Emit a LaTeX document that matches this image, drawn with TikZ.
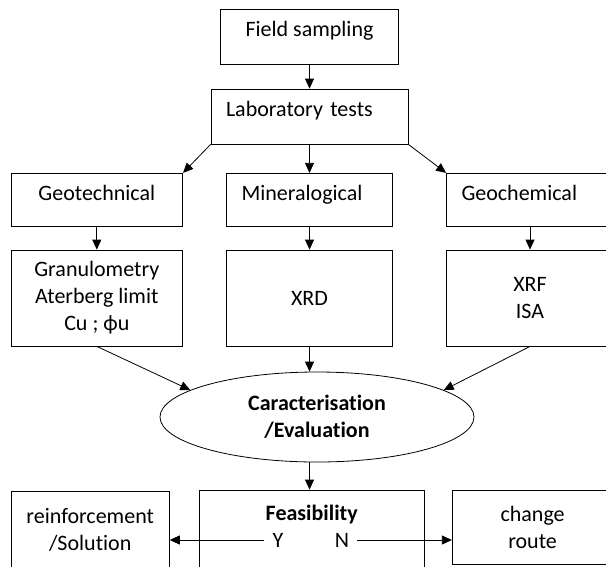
\documentclass[tikz,border=0pt]{standalone}
\usepackage{fontspec}
\setmainfont{Carlito}[Ligatures=NoCommon]
\usetikzlibrary{arrows.meta,shapes.geometric}

\begin{document}
\begin{tikzpicture}[x=1pt, y=-1pt,
  font=\fontsize{22}{27}\selectfont,
  box/.style={draw, line width=0.8pt, rectangle, inner sep=0pt, align=center},
  headbox/.style={box, text height=12pt, text depth=12pt},
  leftbox/.style={headbox, align=left, inner xsep=15pt},
  arr/.style={line width=0.8pt, -{Triangle[length=10pt,width=9pt]}}]
\useasboundingbox (0,0) rectangle (606,566);

% sampling and tests
\node[headbox, minimum width=178pt, minimum height=55pt] (field) at (309.5,36.8) {Field sampling};
\node[leftbox, text width=167pt, minimum height=55pt] (lab) at (309.5,116.5) {Laboratory tests};

% three kinds of tests
\node[headbox, minimum width=171.7pt, minimum height=53.4pt] (geo) at (96.8,200) {Geotechnical};
\node[leftbox, text width=136pt, minimum height=53.4pt] (mine) at (309.5,200) {Mineralogical};
\node[leftbox, text width=137pt, minimum height=53.4pt] (chem) at (530,200) {Geochemical};

\node[box, minimum width=171.7pt, minimum height=96pt] (gran) at (96.8,298) {Granulometry\\Aterberg limit\\Cu ; ϕu};
\node[box, minimum width=166pt, minimum height=96pt] (xrd) at (309.5,298) {XRD};
\node[box, minimum width=166.6pt, minimum height=96pt] (xrf) at (530,298) {XRF\\ISA};

% evaluation
\node[draw, ellipse, line width=0.8pt, minimum width=314pt, minimum height=90pt, inner sep=0pt,
      align=center, font=\fontsize{22}{27}\selectfont\bfseries] (eval) at (317,417) {Caracterisation\\/Evaluation};

% decision
\node[box, minimum width=158.3pt, minimum height=76.3pt] (reinf) at (90.2,529.8) {reinforcement\\/Solution};
\node[box, minimum width=224.7pt, minimum height=80pt, text height=15pt, text depth=35pt,
      font=\fontsize{22}{27}\selectfont\bfseries] (feas) at (311.7,530) {Feasibility};
\node[box, minimum width=160.7pt, minimum height=74.3pt] (route) at (532.6,527.2) {change\\route};
\node[inner xsep=8pt, inner ysep=0pt] (yes) at (278,540) {Y};
\node[inner xsep=8pt, inner ysep=0pt] (no) at (342,540) {N};

\draw[arr] (field) -- (lab);
\draw[arr] (lab.south west) -- (geo.north east);
\draw[arr] (lab) -- (mine);
\draw[arr] (lab.south east) -- (chem.north west);
\draw[arr] (geo) -- (gran);
\draw[arr] (mine) -- (xrd);
\draw[arr] (chem) -- (xrf);
\draw[arr] (gran.south) -- (eval.168);
\draw[arr] (xrd.south) -- (xrd.south |- eval.north);
\draw[arr] (xrf.south) -- (eval.12);
\draw[arr] (eval.south -| xrd.south) -- (feas.north -| xrd.south);
\draw[arr] (yes) -- (yes -| reinf.east);
\draw[arr] (no) -- (no -| route.west);
\end{tikzpicture}
\end{document}
